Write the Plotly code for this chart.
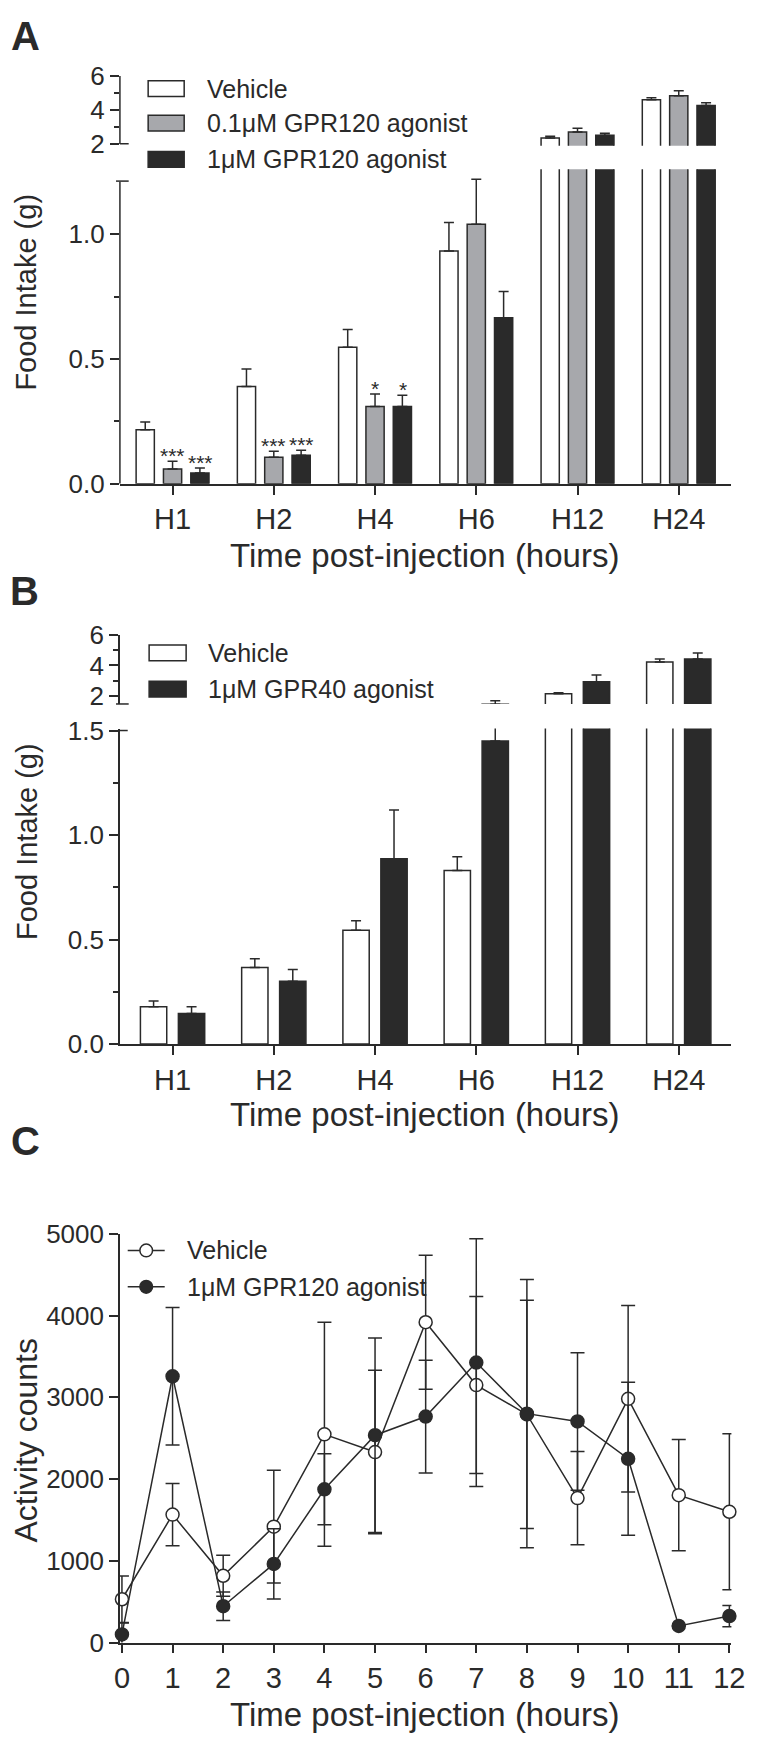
import plotly.graph_objects as go

# ==========================================================
# DATA
# ==========================================================

HOURS = ["H1", "H2", "H4", "H6", "H12", "H24"]

# panel A : food intake (g), mean and SEM
A_VEHICLE = [0.217, 0.39, 0.547, 0.933, 2.35, 4.60]
A_VEHICLE_SEM = [0.031, 0.07, 0.071, 0.114, 0.11, 0.12]
A_LOW = [0.059, 0.106, 0.31, 1.04, 2.70, 4.84]
A_LOW_SEM = [0.031, 0.024, 0.05, 0.18, 0.23, 0.29]
A_HIGH = [0.043, 0.114, 0.31, 0.665, 2.52, 4.26]
A_HIGH_SEM = [0.02, 0.02, 0.045, 0.105, 0.12, 0.17]
A_LOW_SIG = ["***", "***", "*", "", "", ""]
A_HIGH_SIG = ["***", "***", "*", "", "", ""]

# panel B : food intake (g), mean and SEM
B_VEHICLE = [0.178, 0.366, 0.545, 0.831, 2.13, 4.23]
B_VEHICLE_SEM = [0.028, 0.042, 0.045, 0.066, 0.07, 0.20]
B_AGONIST = [0.146, 0.30, 0.887, 1.45, 2.92, 4.43]
B_AGONIST_SEM = [0.032, 0.057, 0.233, 0.23, 0.46, 0.39]

# panel C : activity counts, mean and SEM
C_HOURS = [0, 1, 2, 3, 4, 5, 6, 7, 8, 9, 10, 11, 12]
C_VEHICLE = [530, 1565, 817, 1418, 2547, 2330, 3918, 3149, 2790, 1767, 2981, 1803, 1600]
C_VEHICLE_SEM = [285, 380, 250, 690, 1370, 1000, 820, 1082, 1395, 570, 1140, 680, 955]
C_AGONIST = [100, 3257, 445, 962, 1875, 2536, 2764, 3425, 2800, 2704, 2248, 204, 325]
C_AGONIST_SEM = [140, 840, 175, 430, 433, 1190, 690, 1515, 1640, 841, 935, 0, 130]

LOW_TICKS_A = [0, 0.5, 1.0]
LOW_LABELS_A = ["0.0", "0.5", "1.0"]
LOW_TICKS_B = [0, 0.5, 1.0, 1.5]
LOW_LABELS_B = ["0.0", "0.5", "1.0", "1.5"]
UP_TICKS = [2, 4, 6]
C_TICKS = [0, 1000, 2000, 3000, 4000, 5000]

# ==========================================================
# STYLE
# ==========================================================

W, H = 760, 1749
INK = "#2a2a2a"
GREY = "#a7a8ac"
FONT = "Liberation Sans, Arial, sans-serif"


def fx(p):
    return p / W


def fy(p):
    return 1 - p / H


X_BARS = [fx(117), fx(745)]
X_RANGE = [-0.52, 5.52]
PX_PER_CAT = (745 - 117) / (X_RANGE[1] - X_RANGE[0])

A_UP_DOM = [fy(133), fy(62)]
A_LOW_DOM = [fy(477), fy(157)]
B_UP_DOM = [fy(701), fy(631)]
B_LOW_DOM = [fy(1047), fy(726)]
C_DOM = [fy(1656), fy(1240)]

x_tick_font = dict(family=FONT, size=29, color=INK)
y_tick_font = dict(family=FONT, size=26, color=INK)


def bar(y, err, fill, offset, width, xa, ya):

    return go.Bar(
        x=HOURS,
        y=y,
        offset=offset,
        width=width,
        marker=dict(color=fill, line=dict(color=INK, width=1.5)),
        error_y=dict(
            type="data",
            array=err,
            arrayminus=[0] * len(err),
            symmetric=False,
            color=INK,
            thickness=1.5,
            width=5
        ),
        xaxis=xa,
        yaxis=ya,
        showlegend=False,
        hoverinfo="x+y"
    )


def x_axis(domain, anchor, visible=True):

    return dict(
        domain=domain,
        anchor=anchor,
        type="category",
        categoryorder="array",
        categoryarray=HOURS,
        range=X_RANGE,
        visible=visible,
        showline=True,
        linecolor=INK,
        linewidth=1.5,
        ticks="outside",
        ticklen=9,
        tickwidth=1.5,
        tickcolor=INK,
        tickfont=x_tick_font,
        showgrid=False,
        zeroline=False,
        fixedrange=True
    )


def y_axis(domain, anchor, rng, vals, labels, minor_vals, line=False):

    return dict(
        domain=domain,
        anchor=anchor,
        range=rng,
        tickvals=vals,
        ticktext=labels,
        ticks="outside",
        ticklen=9,
        tickwidth=1.5,
        tickcolor=INK,
        tickfont=y_tick_font,
        minor=dict(
            tickvals=minor_vals,
            ticks="outside",
            ticklen=5,
            tickwidth=1.5,
            tickcolor=INK
        ),
        showline=line,
        linecolor=INK,
        linewidth=1.5,
        showgrid=False,
        zeroline=False,
        fixedrange=True
    )


fig = go.Figure()

# ==========================================================
# PANEL A
# ==========================================================

A_SERIES = [
    (A_VEHICLE, A_VEHICLE_SEM, "white", -0.36),
    (A_LOW, A_LOW_SEM, GREY, -0.09),
    (A_HIGH, A_HIGH_SEM, INK, 0.18),
]

for y, err, fill, off in A_SERIES:
    fig.add_trace(bar(y, err, fill, off, 0.18, "x", "y"))
    fig.add_trace(bar(y, err, fill, off, 0.18, "x2", "y2"))

# ==========================================================
# PANEL B
# ==========================================================

B_SERIES = [
    (B_VEHICLE, B_VEHICLE_SEM, "white", -0.3175),
    (B_AGONIST, B_AGONIST_SEM, INK, 0.0575),
]

for y, err, fill, off in B_SERIES:
    fig.add_trace(bar(y, err, fill, off, 0.26, "x3", "y3"))
    fig.add_trace(bar(y, err, fill, off, 0.26, "x4", "y4"))

# ==========================================================
# PANEL C
# ==========================================================

for y, err, fill in [(C_VEHICLE, C_VEHICLE_SEM, "white"),
                     (C_AGONIST, C_AGONIST_SEM, INK)]:

    fig.add_trace(go.Scatter(
        x=C_HOURS,
        y=y,
        mode="lines+markers",
        line=dict(color=INK, width=1.5),
        marker=dict(size=13, color=fill, line=dict(color=INK, width=1.5)),
        error_y=dict(type="data", array=err, color=INK, thickness=1.5, width=7),
        cliponaxis=False,
        xaxis="x5",
        yaxis="y5",
        showlegend=False
    ))

# ==========================================================
# LAYOUT
# ==========================================================

fig.update_layout(
    width=W,
    height=H,
    autosize=False,
    margin=dict(l=0, r=0, t=0, b=0),
    paper_bgcolor="white",
    plot_bgcolor="white",
    font=dict(family=FONT, color=INK),
    barmode="overlay",

    xaxis=x_axis(X_BARS, "y"),
    yaxis=y_axis(A_LOW_DOM, "x", [0, 1.26], LOW_TICKS_A, LOW_LABELS_A, [0.25, 0.75]),
    xaxis2=x_axis(X_BARS, "y2", visible=False),
    yaxis2=y_axis(A_UP_DOM, "x2", [1.9, 6.0], UP_TICKS, [str(v) for v in UP_TICKS], [3, 5]),

    xaxis3=x_axis(X_BARS, "y3"),
    yaxis3=y_axis(B_LOW_DOM, "x3", [0, 1.51], LOW_TICKS_B, LOW_LABELS_B, [0.25, 0.75, 1.25], line=True),
    xaxis4=x_axis(X_BARS, "y4", visible=False),
    yaxis4=y_axis(B_UP_DOM, "x4", [1.46, 6.0], UP_TICKS, [str(v) for v in UP_TICKS], [3, 5], line=True),

    xaxis5=dict(
        domain=[fx(117), fx(745)],
        anchor="y5",
        range=[-0.04, 12.04],
        tickvals=C_HOURS,
        showline=True,
        linecolor=INK,
        linewidth=1.5,
        ticks="outside",
        ticklen=9,
        tickwidth=1.5,
        tickcolor=INK,
        tickfont=x_tick_font,
        showgrid=False,
        zeroline=False,
        fixedrange=True
    ),
    yaxis5=dict(
        domain=C_DOM,
        anchor="x5",
        range=[0, 5000],
        tickvals=C_TICKS,
        tickformat="d",
        showline=True,
        linecolor=INK,
        linewidth=1.5,
        ticks="outside",
        ticklen=9,
        tickwidth=1.5,
        tickcolor=INK,
        tickfont=y_tick_font,
        showgrid=False,
        zeroline=False,
        fixedrange=True
    ),
)

# broken axis lines and break caps
line_style = dict(color=INK, width=1.5)
shapes = [
    dict(type="line", xref="paper", yref="y", x0=fx(117), x1=fx(117), y0=0, y1=1.21, line=line_style),
    dict(type="line", xref="paper", yref="y2", x0=fx(117), x1=fx(117), y0=2, y1=6, line=line_style),
    dict(type="line", xref="paper", yref="paper", x0=fx(113), x1=fx(126), y0=fy(169), y1=fy(169), line=line_style),
    dict(type="line", xref="paper", yref="paper", x0=fx(117), x1=fx(126), y0=fy(131), y1=fy(131), line=line_style),
    dict(type="line", xref="paper", yref="paper", x0=fx(117), x1=fx(125), y0=fy(728), y1=fy(728), line=line_style),
    dict(type="line", xref="paper", yref="paper", x0=fx(113), x1=fx(126), y0=fy(701), y1=fy(701), line=line_style),
]

annotations = []


def text(x, y, s, size=25, anchor="left", bold=False, angle=0):
    annotations.append(dict(
        x=fx(x), y=fy(y), xref="paper", yref="paper",
        text="<b>%s</b>" % s if bold else s,
        showarrow=False, xanchor=anchor, yanchor="middle",
        textangle=angle,
        font=dict(family=FONT, size=size, color=INK)
    ))


# bar legends
A_NAMES = ["Vehicle", "0.1\u03bcM GPR120 agonist", "1\u03bcM GPR120 agonist"]
B_NAMES = ["Vehicle", "1\u03bcM GPR40 agonist"]

for (_, _, fill, _), name, cy in zip(A_SERIES, A_NAMES, [75, 110, 147]):
    shapes.append(dict(type="rect", xref="paper", yref="paper",
                       x0=fx(146), x1=fx(183), y0=fy(cy + 8), y1=fy(cy - 8),
                       fillcolor=fill, line=line_style))
    text(204, cy, name)

for (_, _, fill, _), name, cy in zip(B_SERIES, B_NAMES, [649, 686]):
    shapes.append(dict(type="rect", xref="paper", yref="paper",
                       x0=fx(147), x1=fx(185), y0=fy(cy + 8), y1=fy(cy - 8),
                       fillcolor=fill, line=line_style))
    text(205, cy, name)

# line legend
for fill, name, cy in [("white", "Vehicle", 1257), (INK, "1\u03bcM GPR120 agonist", 1294)]:
    shapes.append(dict(type="line", xref="paper", yref="paper",
                       x0=fx(125), x1=fx(163), y0=fy(cy), y1=fy(cy), line=line_style))
    shapes.append(dict(type="circle", xref="paper", yref="paper",
                       x0=fx(137.5), x1=fx(150.5), y0=fy(cy + 6.5), y1=fy(cy - 6.5),
                       fillcolor=fill, line=line_style))
    text(184, cy, name)

# significance stars
for series, err, sig, centre in [(A_LOW, A_LOW_SEM, A_LOW_SIG, 0.0),
                                 (A_HIGH, A_HIGH_SEM, A_HIGH_SIG, 0.27)]:
    for h, v, e, s in zip(HOURS, series, err, sig):
        if s:
            annotations.append(dict(
                x=h, y=v + e, xref="x", yref="y",
                text=s, showarrow=False, yanchor="bottom",
                xshift=centre * PX_PER_CAT, yshift=-8,
                font=dict(family=FONT, size=21, color=INK)
            ))

# panel letters
text(20, 21, "A", size=40, anchor="center", bold=True)
text(19, 586, "B", size=40, anchor="center", bold=True)
text(20, 1146, "C", size=40, anchor="center", bold=True)

# axis titles
XT = "Time post-injection (hours)"
text(430, 550, XT, size=33, anchor="center")
text(430, 1119, XT, size=33, anchor="center")
text(430, 1729, XT, size=33, anchor="center")
text(21, 282, "Food Intake (g)", size=29, anchor="center", angle=-90)
text(21, 841, "Food Intake (g)", size=29, anchor="center", angle=-90)
text(21, 1450, "Activity counts", size=32, anchor="center", angle=-90)

fig.update_layout(shapes=shapes, annotations=annotations)

# the page body keeps its default 8px margin otherwise
fig.write_html(
    "out.html",
    config={"displayModeBar": False},
    post_script="document.body.style.margin='0';"
)
